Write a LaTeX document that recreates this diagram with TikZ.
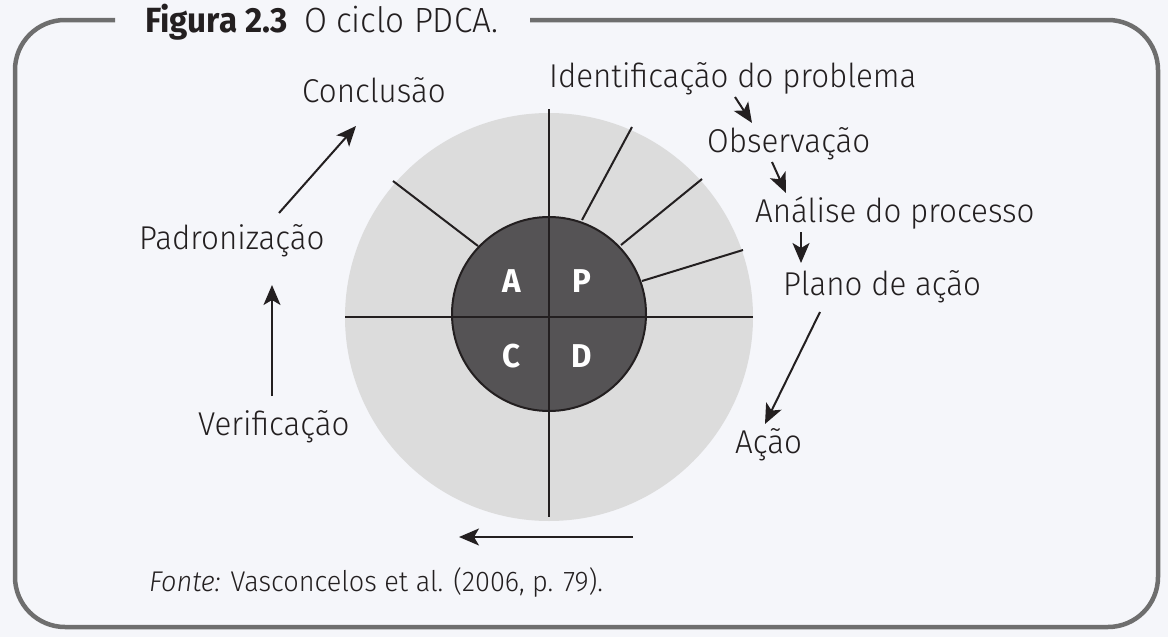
\documentclass[tikz,border=0pt]{standalone}
\usepackage{fontspec}
\setmainfont{Fira Sans Light}[FakeStretch=0.95, BoldFont={Fira Sans Bold}, ItalicFont={Fira Sans Light Italic}]
\usetikzlibrary{arrows.meta}
\definecolor{bg}{HTML}{F5F6FA}
\definecolor{framec}{HTML}{6E6E6E}
\definecolor{ringc}{HTML}{DCDCDC}
\definecolor{corec}{HTML}{555355}
\definecolor{inkc}{HTML}{231F20}
\tikzset{
  framepath/.style={draw=framec, line width=4.5pt, rounded corners=50pt},
  lbl/.style={font=\fontsize{33}{36}\selectfont, text=inkc, inner sep=0pt, anchor=base west},
  letter/.style={font=\fontsize{33}{36}\selectfont\bfseries, text=white, inner sep=0pt, anchor=base},
  arr/.style={draw=inkc, line width=2pt, -{Stealth[length=20pt,width=17pt,inset=5pt]}},
  seg/.style={draw=inkc, line width=2pt},
}
\begin{document}
\begin{tikzpicture}[x=1pt,y=-1pt]
\useasboundingbox (0,0) rectangle (1168,637);
\fill[bg] (0,0) rectangle (1168,637);
% frame
\draw[framepath] (115,20) -- (15,20) -- (15,627) -- (1158,627) -- (1158,20) -- (530,20);
\node[lbl, font=\fontsize{35}{38}\selectfont] (title) at (145,32) {\textbf{Figura 2.3}\hspace{16pt}O ciclo PDCA.};
% circle
\fill[ringc] (549,317) circle (204);
\draw[seg] (393,181) -- (478,246);
\draw[seg] (632,127) -- (582,220);
\draw[seg] (702,179) -- (621,245);
\draw[seg] (743,250) -- (642,281);
\filldraw[fill=corec, draw=inkc, line width=2pt] (549,314) circle (97);
\draw[seg] (549,109) -- (549,517);
\draw[seg] (345,317) -- (753,317);
\node[letter] (A) at (512,292) {A};
\node[letter] (P) at (582,292) {P};
\node[letter] (C) at (512,367) {C};
\node[letter] (D) at (582,367) {D};
% labels
\node[lbl] (idp) at (549,87) {Identificação do problema};
\node[lbl] (obs) at (707,152) {Observação};
\node[lbl] (ana) at (755,222) {Análise do processo};
\node[lbl] (pla) at (783,295) {Plano de ação};
\node[lbl] (aca) at (735,453) {Ação};
\node[lbl] (ver) at (198,435) {Verificação};
\node[lbl] (pad) at (139,249) {Padronização};
\node[lbl] (con) at (302,102) {Conclusão};
\node[lbl, font=\fontsize{28.5}{32}\selectfont] (fonte) at (149,591) {\textit{Fonte:} Vasconcelos et al. (2006, p. 79).};
% connectors
\coordinate (a1s) at (735,97);  \coordinate (a1e) at (752,123);
\coordinate (a2s) at (772,162); \coordinate (a2e) at (786,193);
\coordinate (a3s) at (801,232); \coordinate (a3e) at (801,263);
\coordinate (a4s) at (820,312); \coordinate (a4e) at (765,424);
\coordinate (a5s) at (633,537); \coordinate (a5e) at (459,537);
\coordinate (a6s) at (272,396); \coordinate (a6e) at (272,285);
\coordinate (a7s) at (279,213); \coordinate (a7e) at (356,126);
\draw[arr] (a1s) -- (a1e);
\draw[arr] (a2s) -- (a2e);
\draw[arr] (a3s) -- (a3e);
\draw[arr] (a4s) -- (a4e);
\draw[arr] (a5s) -- (a5e);
\draw[arr] (a6s) -- (a6e);
\draw[arr] (a7s) -- (a7e);
\end{tikzpicture}
\end{document}
